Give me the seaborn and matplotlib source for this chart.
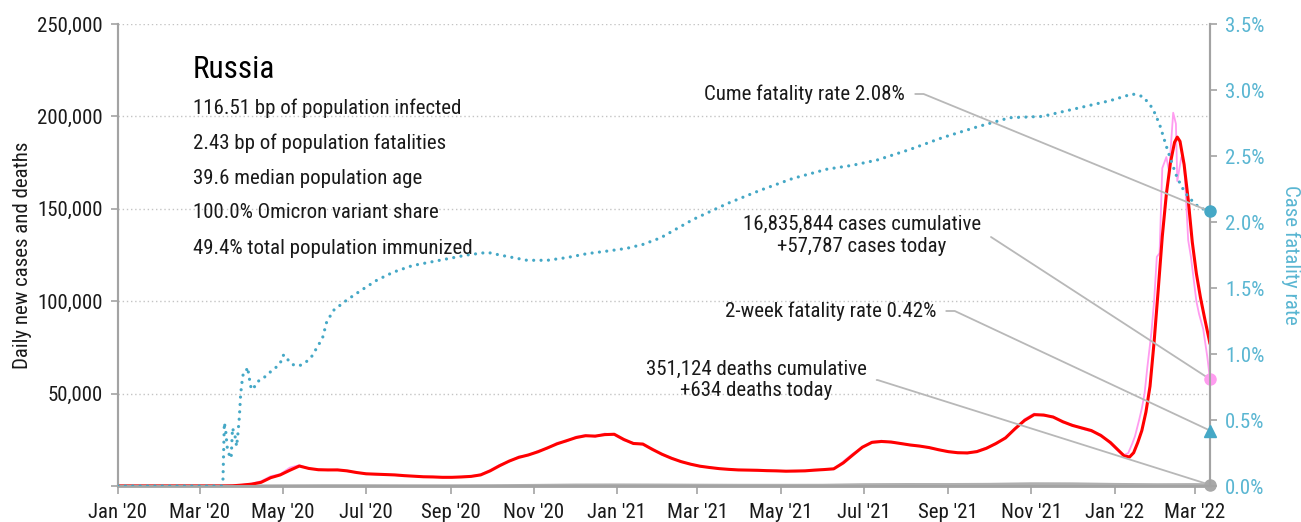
import matplotlib
matplotlib.use("Agg")
import matplotlib.pyplot as plt
import matplotlib.dates as mdates
from matplotlib import font_manager as fm
import matplotlib.ticker as mticker
import numpy as np
import pandas as pd
import seaborn as sns

# ---------------------------------------------------------------- data
# 7-day average of new cases, weekly from 2020-01-01 to 2022-01-05
avg_weekly = [
    0, 0, 0, 0, 0, 0, 0, 0, 0, 0,
    5, 20, 100, 500, 1000, 2000, 4500, 6000, 8500, 10800,
    9500, 8800, 8700, 8700, 8200, 7300, 6600, 6400, 6200, 6000,
    5600, 5300, 5000, 4900, 4700, 4700, 4900, 5200, 6000, 8200,
    11000, 13500, 15500, 16800, 18500, 20600, 22800, 24500, 26200, 27200,
    27000, 27800, 28000, 25200, 23000, 22700, 19800, 17200, 15000, 13200,
    11800, 10700, 10000, 9400, 9000, 8700, 8600, 8500, 8300, 8200,
    8000, 8100, 8200, 8600, 8900, 9300, 12500, 16800, 21000, 23600,
    24100, 23800, 23000, 22200, 21600, 20800, 19600, 18600, 18000, 17900,
    18600, 20400, 23000, 26000, 31000, 35500, 38600, 38400, 37300, 34800,
    32800, 31400, 30000, 27300, 23500, 18500,
]
# daily new cases sampled on the same weekly dates
daily_weekly = [
    0, 0, 0, 0, 0, 0, 0, 0, 0, 0,
    10, 40, 180, 650, 1300, 2600, 5300, 6400, 9900, 11300,
    9400, 9000, 8500, 8900, 8000, 7200, 6700, 6200, 6300, 5900,
    5500, 5400, 4900, 5000, 4600, 4800, 5000, 5300, 6300, 8600,
    11500, 13200, 16000, 16600, 19000, 20300, 23400, 24100, 26700, 27600,
    26600, 28400, 27700, 24700, 23400, 22300, 20200, 16900, 15300, 13000,
    12000, 10500, 10200, 9200, 9100, 8600, 8700, 8300, 8400, 8000,
    8200, 7900, 8300, 8400, 8800, 9100, 13300, 17500, 20800, 24000,
    24500, 23500, 23200, 22000, 21800, 20500, 19800, 18300, 18200, 17600,
    18900, 20800, 22600, 26500, 30600, 36200, 39200, 38000, 37600, 34400,
    33200, 31000, 29500, 27800, 22800, 18000,
]

# Omicron wave, 2022
avg_2022_dates = [
    "2022-01-08", "2022-01-12", "2022-01-15", "2022-01-18", "2022-01-21",
    "2022-01-24", "2022-01-27", "2022-01-30", "2022-02-02", "2022-02-05",
    "2022-02-08", "2022-02-11", "2022-02-14", "2022-02-16", "2022-02-18",
    "2022-02-21", "2022-02-24", "2022-02-27", "2022-03-02", "2022-03-05",
    "2022-03-08", "2022-03-12",
]
avg_2022 = [
    16300, 15700, 18000, 23500, 30000,
    40000, 54000, 78000, 106000, 135000,
    158000, 175000, 186000, 188800, 186500,
    174000, 155000, 132000, 115000, 102000,
    91000, 77000,
]
daily_2022_dates = [
    "2022-01-08", "2022-01-11", "2022-01-14", "2022-01-16", "2022-01-19",
    "2022-01-21", "2022-01-23", "2022-01-25", "2022-01-28", "2022-01-30",
    "2022-02-01", "2022-02-03", "2022-02-05", "2022-02-08", "2022-02-10",
    "2022-02-13", "2022-02-15", "2022-02-16", "2022-02-19", "2022-02-21",
    "2022-02-24", "2022-02-26", "2022-03-02", "2022-03-04", "2022-03-07",
    "2022-03-10", "2022-03-12",
]
daily_2022 = [
    16800, 17800, 23000, 27000, 35700,
    42000, 50000, 64000, 83000, 100000,
    124000, 126000, 172000, 178000, 170000,
    202000, 196000, 165000, 178000, 175000,
    133000, 124000, 100000, 93000, 85000,
    70000, 57787,
]

# daily deaths
deaths_dates = [
    "2020-01-01", "2020-04-01", "2020-05-01", "2020-06-01", "2020-07-01",
    "2020-08-01", "2020-09-01", "2020-10-01", "2020-11-01", "2020-12-01",
    "2021-01-01", "2021-02-01", "2021-03-01", "2021-04-01", "2021-05-01",
    "2021-06-01", "2021-07-01", "2021-08-01", "2021-09-01", "2021-10-01",
    "2021-11-01", "2021-12-01", "2022-01-01", "2022-02-01", "2022-03-01",
    "2022-03-12",
]
deaths = [
    0, 5, 80, 150, 140, 100, 100, 150, 300, 500,
    550, 500, 420, 360, 350, 380, 700, 790, 780, 880,
    1200, 1150, 830, 680, 750, 634,
]

# cumulative case fatality rate, percent
cfr_dates = [
    "2020-01-01", "2020-03-17", "2020-03-18", "2020-03-19", "2020-03-20",
    "2020-03-21", "2020-03-22", "2020-03-24", "2020-03-25", "2020-03-27",
    "2020-03-28", "2020-03-29", "2020-03-30", "2020-03-31", "2020-04-01",
    "2020-04-02", "2020-04-04", "2020-04-05", "2020-04-06", "2020-04-07",
    "2020-04-08", "2020-04-10", "2020-04-12", "2020-04-16", "2020-04-20",
    "2020-04-25", "2020-04-29", "2020-05-01", "2020-05-03", "2020-05-05",
    "2020-05-08", "2020-05-13", "2020-05-18", "2020-05-22", "2020-05-26",
    "2020-05-30", "2020-06-02", "2020-06-07", "2020-06-17", "2020-06-27",
    "2020-07-09", "2020-07-21", "2020-08-04", "2020-08-19", "2020-09-03",
    "2020-09-13", "2020-09-28", "2020-10-07", "2020-10-17", "2020-10-27",
    "2020-11-11", "2020-11-25", "2020-12-10", "2020-12-25", "2021-01-08",
    "2021-01-20", "2021-02-02", "2021-02-14", "2021-02-26", "2021-03-23",
    "2021-04-16", "2021-05-10", "2021-06-04", "2021-06-23", "2021-07-11",
    "2021-08-04", "2021-08-28", "2021-09-22", "2021-10-16", "2021-11-09",
    "2021-12-04", "2021-12-29", "2022-01-14", "2022-01-22", "2022-01-29",
    "2022-02-03", "2022-02-09", "2022-02-15", "2022-02-19", "2022-02-24",
    "2022-03-04", "2022-03-12",
]
cfr = [
    0.0, 0.0, 0.05, 0.48, 0.42,
    0.30, 0.25, 0.21, 0.44, 0.37,
    0.30, 0.40, 0.52, 0.70, 0.79,
    0.86, 0.87, 0.90, 0.84, 0.77,
    0.73, 0.75, 0.79, 0.81, 0.85,
    0.89, 0.93, 0.99, 0.99, 0.95,
    0.92, 0.91, 0.94, 0.98, 1.05,
    1.12, 1.24, 1.33, 1.41, 1.48,
    1.56, 1.62, 1.67, 1.70, 1.73,
    1.75, 1.77, 1.75, 1.73, 1.71,
    1.71, 1.73, 1.76, 1.78, 1.80,
    1.83, 1.88, 1.95, 2.02, 2.14,
    2.24, 2.33, 2.40, 2.43, 2.47,
    2.55, 2.64, 2.72, 2.79, 2.80,
    2.86, 2.92, 2.97, 2.95, 2.86,
    2.74, 2.54, 2.36, 2.27, 2.19,
    2.11, 2.08,
]

country = "Russia"
facts = [
    "116.51 bp of population infected",
    "2.43 bp of population fatalities",
    "39.6 median population age",
    "100.0% Omicron variant share",
    "49.4% total population immunized",
]
cume_cases = 16835844
cases_today = 57787
cume_deaths = 351124
deaths_today = 634
cume_cfr = 2.08
two_week_cfr = 0.42

# ---------------------------------------------------------------- frames
weekly_dates = pd.date_range("2020-01-01", periods=len(avg_weekly), freq="7D")
avg_df = pd.DataFrame({
    "date": list(weekly_dates) + list(pd.to_datetime(avg_2022_dates)),
    "cases": avg_weekly + avg_2022,
})
daily_df = pd.DataFrame({
    "date": list(weekly_dates) + list(pd.to_datetime(daily_2022_dates)),
    "cases": daily_weekly + daily_2022,
})
deaths_df = pd.DataFrame({"date": pd.to_datetime(deaths_dates), "deaths": deaths})
cfr_df = pd.DataFrame({"date": pd.to_datetime(cfr_dates), "cfr": cfr})
last_day = cfr_df["date"].iloc[-1]

# ---------------------------------------------------------------- style
sns.set_theme(style="white")


def pick_family():
    entries = fm.fontManager.ttflist
    names = {f.name for f in entries}
    for cand in ["Roboto Condensed", "Liberation Sans Narrow", "Open Sans Condensed",
                 "DejaVu Sans Condensed", "Noto Sans Condensed"]:
        if cand in names:
            return cand, "normal"
    for f in entries:
        if f.name == "DejaVu Sans" and f.stretch in ("condensed", "semi-condensed"):
            return "DejaVu Sans", "condensed"
    return "Roboto", "normal"


family, stretch = pick_family()
plt.rcParams["font.family"] = [family, "DejaVu Sans"]
plt.rcParams["font.stretch"] = stretch

CYAN = "#45a8c6"
CYAN_TXT = "#5ab6d2"
PINK = "#ff9cf0"
RED = "#ff0000"
GREY = "#a3a3a3"
DARK = "#1a1a1a"

fig = plt.figure(figsize=(13.01, 5.22), dpi=100)
ax = fig.add_axes([118 / 1301, 36 / 522, 1092 / 1301, 462 / 522])
ax2 = ax.twinx()

# ---------------------------------------------------------------- series
sns.lineplot(data=deaths_df, x="date", y="deaths", ax=ax, color="#b0b0b0",
             linewidth=2.2, estimator=None, zorder=2)
sns.lineplot(data=daily_df, x="date", y="cases", ax=ax, color=PINK,
             linewidth=1.3, estimator=None, zorder=3)
sns.lineplot(data=avg_df, x="date", y="cases", ax=ax, color=RED,
             linewidth=2.2, estimator=None, zorder=4)
sns.lineplot(data=cfr_df, x="date", y="cfr", ax=ax2, color=CYAN,
             linewidth=2.3, linestyle=(0, (0.01, 2.3)), dash_capstyle="round",
             estimator=None, zorder=3)

# end-of-series markers
ax.plot([last_day], [cases_today], "o", color=PINK, ms=8, clip_on=False, zorder=6)
ax.plot([last_day], [deaths_today], "o", color="#a8a8a8", ms=8, clip_on=False, zorder=6)
ax2.plot([last_day], [cume_cfr], "o", color=CYAN, ms=8, clip_on=False, zorder=6)
ax2.plot([last_day], [two_week_cfr], "^", color=CYAN, ms=9, clip_on=False, zorder=6)

# ---------------------------------------------------------------- axes
ax.set_xlim(pd.Timestamp("2020-01-01"), last_day)
ax.set_ylim(0, 250000)
ax2.set_ylim(0, 3.5)

ax.set_yticks(np.arange(0, 250001, 50000))
ax.yaxis.set_major_formatter(mticker.FuncFormatter(lambda v, p: "" if v == 0 else f"{v:,.0f}"))
ax2.set_yticks(np.arange(0, 3.51, 0.5))
ax2.yaxis.set_major_formatter(mticker.FuncFormatter(lambda v, p: f"{v:.1f}%"))

ax.xaxis.set_major_locator(mdates.MonthLocator(bymonth=[1, 3, 5, 7, 9, 11]))
ax.xaxis.set_major_formatter(mdates.DateFormatter("%b '%y"))

ax.grid(axis="y", color="#c4c4c4", linestyle=(0, (1, 2)), linewidth=1.0)
ax.set_axisbelow(True)

for a in (ax, ax2):
    a.spines["top"].set_visible(False)
    for s in ("left", "right", "bottom"):
        a.spines[s].set_color(GREY)
        a.spines[s].set_linewidth(1.5)
ax.spines["bottom"].set_linewidth(2.0)

ax.tick_params(axis="y", which="major", length=5, width=1.2, color=GREY,
               labelsize=15, labelcolor=DARK, pad=6, left=True)
ax.tick_params(axis="x", which="major", length=6, width=1.2, color=GREY,
               labelsize=15, labelcolor=DARK, pad=6, bottom=True)
ax2.tick_params(axis="y", which="major", length=5, width=1.2, color=GREY,
                labelsize=15, labelcolor=CYAN_TXT, pad=6, right=True)

ax.set_xlabel("")
ax.set_ylabel("Daily new cases and deaths", fontsize=15, color=DARK, labelpad=4)
ax2.set_ylabel("Case fatality rate", fontsize=15, color=CYAN_TXT, rotation=270,
               labelpad=26)

# ---------------------------------------------------------------- text block
fig.text(193 / 1301, 1 - 70 / 522, country, fontsize=22.5, color="black",
         ha="left", va="center")
for i, line in enumerate(facts):
    fig.text(193 / 1301, 1 - (108 + 35 * i) / 522, line, fontsize=15,
             color=DARK, ha="left", va="center")

# ---------------------------------------------------------------- callouts
callout_line = dict(arrowstyle="-", color="#b8b8b8", lw=1.3, shrinkA=5, shrinkB=0,
                    relpos=(1, 0.5))


def callout(axis, yval, text, xy_pix, ha, angle):
    props = dict(callout_line)
    props["connectionstyle"] = f"angle,angleA=0,angleB={angle},rad=0"
    axis.annotate(text, xy=(last_day, yval), xycoords="data",
                  xytext=(xy_pix[0], 522 - xy_pix[1]), textcoords="figure pixels",
                  ha=ha, va="center", fontsize=15, color=DARK, multialignment="center",
                  arrowprops=props, annotation_clip=False, zorder=5)


callout(ax2, cume_cfr, f"Cume fatality rate {cume_cfr:.2f}%", (905, 94), "right", -22.3)
callout(ax, cases_today,
        f"{cume_cases:,} cases cumulative\n+{cases_today:,} cases today",
        (862, 235), "center", -33.0)
callout(ax2, two_week_cfr, f"2-week fatality rate {two_week_cfr:.2f}%", (936, 311),
        "right", -25.1)
callout(ax, deaths_today,
        f"{cume_deaths:,} deaths cumulative\n+{deaths_today} deaths today",
        (756, 380), "center", -17.5)

fig.savefig("out.png", dpi=100)
